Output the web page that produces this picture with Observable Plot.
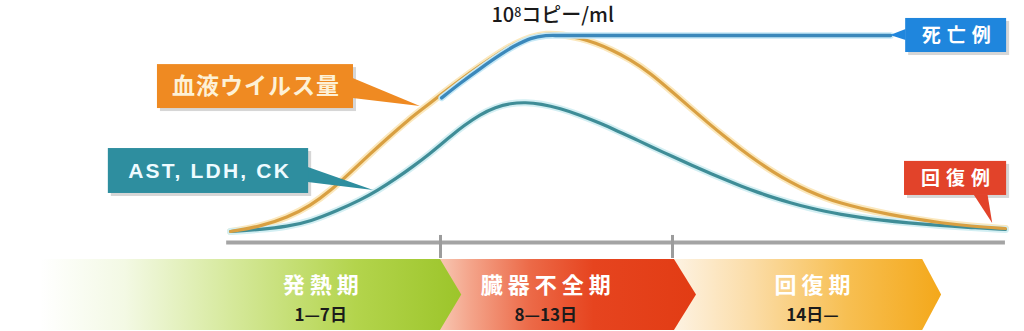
<!DOCTYPE html>
<html><head><meta charset="utf-8">
<script src="https://cdn.jsdelivr.net/npm/d3@7"></script>
<script src="https://cdn.jsdelivr.net/npm/@observablehq/plot@0.6"></script>
<style>
html,body{margin:0;padding:0;background:#fff;}
#chart svg{display:block;}
</style></head>
<body><div id="chart"></div>
<script>
// ---------- data ----------
// Day of illness (x) and relative level (y, 100 = peak = 10^8 copies/ml)
const viralDay = [2.07,2.84,3.54,4.14,4.66,5.17,5.69,6.21,6.65,7.11,7.50,8.02,8.53,9.05,9.39,9.83,10.22,10.66,11.12,11.51,11.90,12.41,12.93,13.53,13.97,14.41,14.87,15.26,15.70,16.11,16.55,16.99,17.46,17.84,18.36,19.14,19.78,20.43,21.21,22.11];
const viralLoad = [0,2.5,7.1,13.1,20.7,29.8,39.4,48.5,56.1,63.0,69.0,76.8,83.8,90.6,94.6,98.3,100,99.4,97.6,95.2,92.0,86.9,80.0,69.9,62.4,55.0,47.6,41.6,35.3,30.0,24.9,20.6,16.9,14.4,11.7,8.5,6.3,4.4,2.7,1.5];
const enzymeDay = [2.07,2.84,3.54,4.14,4.84,5.43,5.87,6.34,6.80,7.24,7.50,7.81,8.09,8.53,8.92,9.31,9.70,10.09,10.60,11.12,11.64,12.08,12.54,12.93,13.53,13.97,14.41,14.87,15.26,15.70,16.11,16.55,16.99,17.46,17.84,18.36,18.88,19.58,20.43,21.21,22.11];
const enzymeLevel = [0,1.0,2.5,5.1,10.6,15.9,20.7,26.6,33.0,39.6,43.8,48.9,53.3,59.2,62.8,64.8,65.2,64.5,62.2,58.7,54.6,50.7,46.6,43.0,37.6,33.7,29.9,26.1,23.0,19.8,17.1,14.5,12.2,10.1,8.7,7.1,5.8,4.4,3.0,2.0,1.0];
const fatalDay = [7.53,8.02,8.53,9.05,9.39,9.83,10.22,10.60,11.12,19.14];
const fatalLoad = [67.5,75.0,82.3,89.3,93.4,97.4,98.9,99.0,99.0,99.0];

const seriesLabels = ["血液ウイルス量","AST, LDH, CK","死亡例","回復例"];
const peakLabel = "10⁸コピー/ml";
const phaseNames = ["発熱期","臓器不全期","回復期"];
const phaseDays = ["1—7日","8—13日","14日—"];
const boundaryDays = [7.5, 13.5];

// ---------- layout (data units) ----------
const xDomain = [-3.879, 22.603];
const yDomain = [-13.64, 116.67];
const axisLine = {y: -5.56, x1: 1.97, x2: 22.11, tickTop: -2.0, tickBottom: -13.64};
const peakPos = {x: 10.40, y: 109.0};
const phaseLayout = [
  {start: -2.84, end: 7.5,  tip: 8.05,  labelX: 4.40},
  {start: 7.5,   end: 13.55, tip: 14.12, labelX: 10.22},
  {start: 13.5,  end: 19.97, tip: 20.46, labelX: 17.12}
];
const callouts = [
  {label: seriesLabels[0], box: [0.18, 5.25, 62.1, 84.3], base: [[5.24, 77.3],[5.24, 67.2]], tip: [6.98, 63.1],
   fill: "#ef8a22", color: "#fdf1d6", size: 23, spacing: 1, font: "Noto Sans CJK JP"},
  {label: seriesLabels[1], box: [-1.09, 4.09, 19.2, 41.9], base: [[4.08, 32.3],[4.08, 24.7]], tip: [5.77, 20.7],
   fill: "#2e8e9f", color: "#eefbff", size: 21, spacing: 2.2, font: "Liberation Sans"},
  {label: seriesLabels[2], box: [19.53, 22.14, 90.4, 107.6], base: [[19.54, 102.0],[19.54, 96.5]], tip: [19.14, 99.0],
   fill: "#1f86dd", color: "#ffffff", size: 19, spacing: 6, font: "Noto Sans CJK JP"},
  {label: seriesLabels[3], box: [19.50, 22.14, 18.2, 35.4], base: [[21.30, 18.4],[21.66, 18.4]], tip: [21.78, 4.0],
   fill: "#e2432a", color: "#ffffff", size: 19, spacing: 6, font: "Noto Sans CJK JP"}
];

// ---------- build tables ----------
const viral = viralDay.map((d, i) => ({day: d, v: viralLoad[i]}));
const enzyme = enzymeDay.map((d, i) => ({day: d, v: enzymeLevel[i]}));
const fatal = fatalDay.map((d, i) => ({day: d, v: fatalLoad[i]}));

const boxes = callouts.map(c => ({x1: c.box[0], x2: c.box[1], y1: c.box[2], y2: c.box[3], fill: c.fill}));
const pointerMarks = callouts.map(c => Plot.area(
  [{x1: c.base[0][0], y1: c.base[0][1], x2: c.base[1][0], y2: c.base[1][1]},
   {x1: c.tip[0], y1: c.tip[1], x2: c.tip[0], y2: c.tip[1]}],
  {x1: "x1", y1: "y1", x2: "x2", y2: "y2", fill: c.fill, curve: "linear"}));
const labelMarks = callouts.map(c => Plot.text([c], {
  x: d => (d.box[0] + d.box[1]) / 2, y: d => (d.box[2] + d.box[3]) / 2, text: "label",
  fill: c.color, fontSize: c.size, fontWeight: "bold", fontFamily: c.font + ", Noto Sans CJK JP, sans-serif"}));

const smooth = "basis";
const main = Plot.plot({
  width: 1024, height: 258, margin: 0,
  x: {domain: xDomain, axis: null},
  y: {domain: yDomain, axis: null},
  marks: [
    Plot.ruleY([axisLine.y], {x1: axisLine.x1, x2: axisLine.x2, stroke: "#a4a4a4", strokeWidth: 4}),
    Plot.ruleX(boundaryDays, {y1: axisLine.tickTop, y2: axisLine.tickBottom, stroke: "#9c9c9c", strokeWidth: 3}),
    // curves with soft halos
    Plot.line(viral, {x: "day", y: "v", stroke: "#fbe8bd", strokeWidth: 7, curve: smooth}),
    Plot.line(enzyme, {x: "day", y: "v", stroke: "#d3eff3", strokeWidth: 7, curve: smooth}),
    Plot.line(enzyme, {x: "day", y: "v", stroke: "#3f8d97", strokeWidth: 3.2, curve: smooth}),
    Plot.line(viral, {x: "day", y: "v", stroke: "#d9a042", strokeWidth: 3.2, curve: smooth}),
    Plot.line(fatal, {x: "day", y: "v", stroke: "#c6e9f7", strokeWidth: 6.5, curve: "catmull-rom"}),
    Plot.line(fatal, {x: "day", y: "v", stroke: "#3b88bb", strokeWidth: 3.4, curve: "catmull-rom"}),
    // callouts
    Plot.rect(boxes, {x1: "x1", x2: "x2", y1: "y1", y2: "y2", fill: "#8a8a8a", fillOpacity: 0.35, dx: 3, dy: 3}),
    ...pointerMarks,
    Plot.rect(boxes, {x1: "x1", x2: "x2", y1: "y1", y2: "y2", fill: "fill"}),
    ...labelMarks,
    Plot.text([peakLabel], {x: peakPos.x, y: peakPos.y, text: d => d, fill: "#1a1a1a", fontSize: 20, fontWeight: 500,
      fontFamily: "Noto Sans CJK JP, sans-serif"})
  ]
});

// ---------- phase band ----------
const gradients = [
  {id: "gPhase0", stops: [[0, "#ffffff"], [0.2, "#f3f9e4"], [0.45, "#d6e99c"], [0.75, "#b3d44c"], [1, "#9cc52a"]]},
  {id: "gPhase1", stops: [[0, "#f7c6b2"], [0.12, "#f4a48a"], [0.35, "#ec6a48"], [0.6, "#e6441f"], [1, "#e23c14"]]},
  {id: "gPhase2", stops: [[0, "#fdf3e4"], [0.3, "#fbdca6"], [0.65, "#f7bf52"], [1, "#f4a81a"]]}
];
function gradientDefs() {
  const defs = d3.create("svg:defs");
  gradients.forEach(g => {
    const lg = defs.append("linearGradient").attr("id", g.id).attr("x1", 0).attr("x2", 1).attr("y1", 0).attr("y2", 0);
    g.stops.forEach(([o, c]) => lg.append("stop").attr("offset", o).attr("stop-color", c));
  });
  return defs.node();
}
const phases = phaseNames.map((n, i) => ({name: n, days: phaseDays[i], ...phaseLayout[i], i}));
const arrowMarks = phases.slice().reverse().map(p => Plot.areaY(
  [{x: p.start, y1: 0, y2: 1}, {x: p.end, y1: 0, y2: 1}, {x: p.tip, y1: 0.5, y2: 0.5}],
  {x: "x", y1: "y1", y2: "y2", fill: `url(#gPhase${p.i})`, curve: "linear"}));

const band = Plot.plot({
  width: 1024, height: 73, marginTop: 1, marginBottom: 1, marginLeft: 0, marginRight: 0,
  x: {domain: xDomain, axis: null},
  y: {domain: [0, 1], axis: null},
  marks: [
    gradientDefs,
    ...arrowMarks,
    Plot.text(phases, {x: "labelX", y: 0.63, text: "name", fill: "#ffffff", fontSize: 22, fontWeight: "bold",
      fontFamily: "Noto Sans CJK JP, sans-serif"}),
    Plot.text(phases, {x: "labelX", y: 0.21, text: "days", fill: "#1b1b1b", fontSize: 17, fontWeight: "bold",
      fontFamily: "Noto Sans CJK JP, sans-serif"})
  ]
});

// letter spacing tweaks
const spacing = new Map(callouts.map(c => [c.label, c.spacing]));
phaseNames.forEach(n => spacing.set(n, 5));
[main, band].forEach(svg => d3.select(svg).selectAll("text").each(function() {
  const s = spacing.get(this.textContent);
  if (s) d3.select(this).style("letter-spacing", s + "px").attr("dx", s / 2);
}));
// superscript exponent in the peak label
d3.select(main).selectAll("text").filter(function() { return this.textContent === peakLabel; }).each(function() {
  const t = d3.select(this);
  t.text(null);
  t.append("tspan").text("10");
  t.append("tspan").attr("dy", "-0.45em").attr("font-size", "0.62em").text("8");
  t.append("tspan").attr("dy", "0.28em").text("コピー/ml");
});

document.getElementById("chart").append(main, band);
</script>
</body></html>
